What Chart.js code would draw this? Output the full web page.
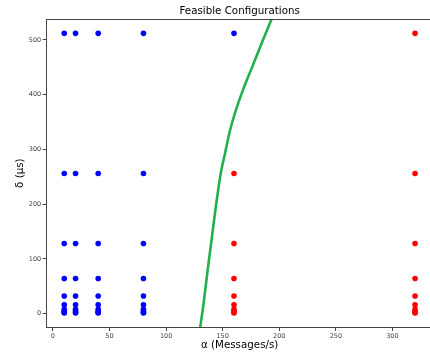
<!DOCTYPE html>
<html>
<head>
<meta charset="utf-8">
<script src="https://cdn.jsdelivr.net/npm/chart.js@4"></script>
<style>
  html, body { margin: 0; padding: 0; background: #fff; overflow: hidden; }
  #wrap { width: 430px; height: 357px; overflow: hidden; }
</style>
</head>
<body>
<div id="wrap"><canvas id="chart" width="440" height="357"></canvas></div>
<script>
// Configurations tested
const alphas = [10, 20, 40, 80, 160, 320];
const deltas = [1, 2, 4, 8, 16, 32, 64, 128, 256, 512];
// 1 = feasible (blue), 0 = infeasible (red); one row per alpha, one column per delta
const feasible = [
  [1, 1, 1, 1, 1, 1, 1, 1, 1, 1],
  [1, 1, 1, 1, 1, 1, 1, 1, 1, 1],
  [1, 1, 1, 1, 1, 1, 1, 1, 1, 1],
  [1, 1, 1, 1, 1, 1, 1, 1, 1, 1],
  [0, 0, 0, 0, 0, 0, 0, 0, 0, 1],
  [0, 0, 0, 0, 0, 0, 0, 0, 0, 0]
];

// Feasibility boundary
const boundaryAlpha = [128.5, 130.2, 133.1, 136.7, 140.5, 144.3, 148.5, 152.3, 156.1, 161.1, 168.3, 175.4, 184.8, 193.0, 197.6];
const boundaryDelta = [-50, -24.5, 18.2, 79.0, 139.8, 200.7, 258.4, 294.9, 331.4, 367.9, 410.6, 447.1, 495.6, 537, 560];

// Axis ticks
const xTicks = [0, 50, 100, 150, 200, 250, 300];
const yTicks = [0, 100, 200, 300, 400, 500];

const bluePts = [], redPts = [];
alphas.forEach((a, i) => {
  deltas.forEach((d, j) => {
    (feasible[i][j] ? bluePts : redPts).push({ x: a, y: d });
  });
});
const curve = boundaryAlpha.map((a, i) => ({ x: a, y: boundaryDelta[i] }));

const FONT = "'DejaVu Sans', sans-serif";

// top spine (right one falls outside the picture)
const frame = {
  id: "frame",
  afterDraw(chart) {
    const { ctx, chartArea: a } = chart;
    ctx.save();
    ctx.strokeStyle = "#444";
    ctx.lineWidth = 1;
    ctx.beginPath();
    ctx.moveTo(a.left, Math.round(a.top) + 0.5);
    ctx.lineTo(a.right, Math.round(a.top) + 0.5);
    ctx.lineTo(a.right, a.bottom);
    ctx.stroke();
    ctx.restore();
  }
};

new Chart(document.getElementById("chart"), {
  type: "scatter",
  data: {
    datasets: [
      {
        label: "boundary",
        type: "line",
        data: curve,
        borderColor: "#22b04a",
        borderWidth: 2.6,
        pointRadius: 0,
        cubicInterpolationMode: "monotone",
        fill: false
      },
      {
        label: "feasible",
        data: bluePts,
        backgroundColor: "#0000ff",
        borderWidth: 0,
        pointRadius: 2.8
      },
      {
        label: "infeasible",
        data: redPts,
        backgroundColor: "#ff0000",
        borderWidth: 0,
        pointRadius: 2.8
      }
    ]
  },
  options: {
    responsive: false,
    animation: false,
    devicePixelRatio: 1,
    layout: { padding: { left: 0, right: 7.4, top: 0, bottom: 0 } },
    plugins: {
      legend: { display: false },
      tooltip: { enabled: false },
      title: {
        display: true,
        text: "Feasible Configurations",
        fullSize: false,
        color: "#000",
        font: { family: FONT, size: 10.3, weight: "normal" },
        padding: { top: 5, bottom: 2 }
      }
    },
    scales: {
      x: {
        type: "linear",
        min: -5.5,
        max: 335.5,
        afterBuildTicks: s => { s.ticks = xTicks.map(v => ({ value: v })); },
        afterFit: s => { s.height = 30; },
        grid: { drawOnChartArea: false, drawTicks: true, tickLength: 4, tickColor: "#444" },
        border: { display: true, color: "#444", width: 1 },
        ticks: { color: "#444", padding: 1, maxRotation: 0, font: { family: FONT, size: 6.5 } },
        title: {
          display: true,
          text: "α (Messages/s)",
          color: "#000",
          font: { family: FONT, size: 10.3 },
          padding: { top: 0, bottom: 5.8 }
        }
      },
      y: {
        type: "linear",
        min: -24.55,
        max: 537.55,
        afterBuildTicks: s => { s.ticks = yTicks.map(v => ({ value: v })); },
        afterFit: s => { s.width = 46.7; },
        grid: { drawOnChartArea: false, drawTicks: true, tickLength: 4, tickColor: "#444" },
        border: { display: true, color: "#444", width: 1 },
        ticks: { color: "#444", padding: 1.5, font: { family: FONT, size: 6.5 } },
        title: {
          display: true,
          text: "δ (μs)",
          color: "#000",
          font: { family: FONT, size: 10.3 },
          padding: { top: 13.8, bottom: 0 }
        }
      }
    }
  },
  plugins: [frame]
});
</script>
</body>
</html>
